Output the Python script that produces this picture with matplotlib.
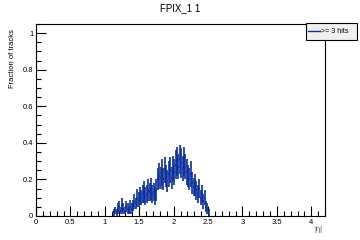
import matplotlib
matplotlib.use("Agg")
import matplotlib.pyplot as plt
from matplotlib.ticker import MultipleLocator
from matplotlib.patches import Rectangle
from matplotlib.lines import Line2D

# data: fraction of tracks vs |eta|, bins of 0.02 starting at 1.12
bin_lo = 1.12
bin_w = 0.02
frac = [0.02, 0.03, 0.02, 0.04,
        0.05, 0.03, 0.06, 0.04, 0.03,
        0.05, 0.04, 0.03, 0.05, 0.04,
        0.06, 0.08, 0.07, 0.10, 0.09,
        0.11, 0.10, 0.12, 0.13, 0.11,
        0.12, 0.14, 0.13, 0.15, 0.12,
        0.13, 0.11, 0.14, 0.20, 0.22,
        0.21, 0.24, 0.20, 0.25, 0.22,
        0.19, 0.23, 0.25, 0.21, 0.26,
        0.24, 0.28, 0.30, 0.27, 0.31,
        0.29, 0.26, 0.30, 0.27, 0.24,
        0.22, 0.20, 0.23, 0.18, 0.16,
        0.17, 0.14, 0.12, 0.15, 0.10,
        0.12, 0.08, 0.10, 0.05, 0.04,
        0.02]
err = [0.02, 0.02, 0.02, 0.03,
       0.03, 0.02, 0.04, 0.03, 0.02,
       0.03, 0.03, 0.02, 0.04, 0.03,
       0.03, 0.04, 0.03, 0.05, 0.04,
       0.05, 0.04, 0.05, 0.06, 0.05,
       0.05, 0.06, 0.05, 0.06, 0.05,
       0.05, 0.05, 0.06, 0.06, 0.07,
       0.06, 0.07, 0.06, 0.07, 0.06,
       0.06, 0.07, 0.07, 0.06, 0.07,
       0.07, 0.08, 0.08, 0.07, 0.08,
       0.08, 0.07, 0.08, 0.07, 0.07,
       0.06, 0.06, 0.07, 0.06, 0.05,
       0.06, 0.05, 0.05, 0.05, 0.04,
       0.05, 0.04, 0.04, 0.03, 0.03,
       0.02]
centers = [bin_lo + bin_w * (i + 0.5) for i in range(len(frac))]

blue = '#0a2f9c'
plt.rcParams['font.family'] = ['Liberation Sans', 'DejaVu Sans']

fig = plt.figure(figsize=(3.6, 2.4), dpi=100)
ax = fig.add_axes([0.1, 0.1, 0.803, 0.8])

ax.errorbar(centers, frac, yerr=err, xerr=bin_w / 2, fmt='none',
            ecolor=blue, elinewidth=1.2, capsize=0)

ax.set_xlim(0, 4.2)
ax.set_ylim(0, 1.05)
ax.set_xticks([0, 0.5, 1, 1.5, 2, 2.5, 3, 3.5, 4])
ax.set_xticklabels(['0', '0.5', '1', '1.5', '2', '2.5', '3', '3.5', '4'])
ax.set_yticks([0, 0.2, 0.4, 0.6, 0.8, 1])
ax.set_yticklabels(['0', '0.2', '0.4', '0.6', '0.8', '1'])
ax.xaxis.set_minor_locator(MultipleLocator(0.1))
ax.yaxis.set_minor_locator(MultipleLocator(0.05))
ax.tick_params(which='both', direction='in', labelsize=5.5, width=0.8,
               pad=2)
ax.tick_params(which='major', length=7)
ax.tick_params(which='minor', length=3.5)
for s in ax.spines.values():
    s.set_linewidth(0.8)

fig.text(0.5, 0.965, 'FPIX_1 1', ha='center', va='center', fontsize=7)
fig.text(0.035, 0.88, 'Fraction of tracks', rotation=90, ha='center',
         va='top', fontsize=5.5)
fig.text(0.885, 0.045, '|η|', ha='center', va='center', fontsize=5.5,
         color='#555555')

# legend box
fig.patches.append(Rectangle((0.85, 0.835), 0.142, 0.07,
                             transform=fig.transFigure, facecolor='#f0f0f0',
                             edgecolor='black', linewidth=0.8))
fig.lines.append(Line2D([0.856, 0.888], [0.87, 0.87], transform=fig.transFigure,
                        color=blue, linewidth=1.0))
fig.text(0.892, 0.87, '>= 3 hits', ha='left', va='center', fontsize=5)

fig.savefig('out.png', dpi=100)
